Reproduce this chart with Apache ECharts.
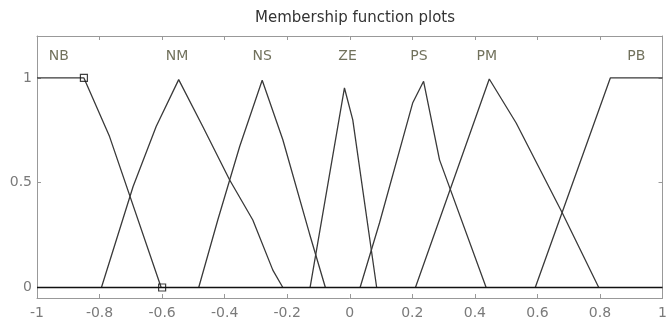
<!DOCTYPE html>
<html>
<head>
<meta charset="utf-8">
<script src="https://cdn.jsdelivr.net/npm/echarts@6/dist/echarts.min.js"></script>
<style>
  html, body { margin: 0; padding: 0; background: #fff; }
  #chart { width: 670px; height: 328px; }
</style>
</head>
<body>
<div id="chart"></div>
<script>
// Membership functions of the seven linguistic terms, as [x, membership] vertices
const mfNames = ['NB', 'NM', 'NS', 'ZE', 'PS', 'PM', 'PB'];
const NB = [[-1, 1], [-0.85, 1], [-0.768, 0.72], [-0.603, 0]];
const NM = [[-0.794, 0], [-0.693, 0.481], [-0.619, 0.768], [-0.547, 0.992], [-0.47, 0.768], [-0.384, 0.513], [-0.31, 0.322], [-0.246, 0.083], [-0.214, 0]];
const NS = [[-0.483, 0], [-0.422, 0.322], [-0.352, 0.673], [-0.28, 0.989], [-0.214, 0.705], [-0.129, 0.258], [-0.078, 0]];
const ZE = [[-0.127, 0], [-0.017, 0.952], [0.0096, 0.80], [0.086, 0]];
const PS = [[0.033, 0], [0.095, 0.308], [0.201, 0.88], [0.236, 0.984], [0.287, 0.609], [0.436, 0]];
const PM = [[0.21, 0], [0.446, 0.995], [0.532, 0.785], [0.68, 0.354], [0.796, 0]];
const PB = [[0.593, 0], [0.833, 1], [1, 1]];
const mfData = [NB, NM, NS, ZE, PS, PM, PB];

// Zero baseline across the universe of discourse
const baseline = [[-1, 0], [1, 0]];
// Selected-function markers (NB breakpoints)
const markers = [[-0.85, 1], [-0.6, 0]];
// Term label anchor positions
const labelX = [-0.93, -0.552, -0.28, -0.007, 0.221, 0.438, 0.916];
const labelY = 1.103;

const yTicks = [0, 0.5, 1];

const chart = echarts.init(document.getElementById('chart'));
const fontFamily = '"DejaVu Sans", Arial, sans-serif';

const series = mfData.map((d, i) => ({
  name: mfNames[i],
  type: 'line',
  data: d,
  symbol: 'none',
  lineStyle: { color: '#3a3a3a', width: 1.3 },
  z: 3,
  animation: false
}));

series.push({
  type: 'line',
  data: baseline,
  symbol: 'none',
  lineStyle: { color: '#111', width: 1.4 },
  z: 4,
  animation: false
});

series.push({
  type: 'scatter',
  data: markers,
  symbol: 'rect',
  symbolSize: 7,
  itemStyle: { color: 'rgba(255,255,255,0)', borderColor: '#111', borderWidth: 1.2 },
  z: 5,
  animation: false
});

series.push({
  type: 'scatter',
  data: mfNames.map((n, i) => ({ name: n, value: [labelX[i], labelY] })),
  symbolSize: 0,
  label: {
    show: true,
    position: 'inside',
    formatter: p => p.name,
    color: '#4d4d33',
    fontSize: 14,
    fontFamily: fontFamily
  },
  silent: true,
  z: 6,
  animation: false
});

chart.setOption({
  animation: false,
  backgroundColor: '#fff',
  title: {
    text: 'Membership function plots',
    left: 350,
    textAlign: 'center',
    top: 6,
    textStyle: { color: '#333', fontSize: 15, fontWeight: 'normal', fontFamily: fontFamily }
  },
  grid: { left: 37, right: 7, top: 36, bottom: 30, show: false },
  xAxis: [{
    type: 'value', min: -1, max: 1, interval: 0.2, position: 'bottom',
    axisLine: { show: true, onZero: false, lineStyle: { color: '#999', width: 1 } },
    axisTick: { show: true, inside: true, length: 4, lineStyle: { color: '#999' } },
    axisLabel: { color: '#7a7a7a', fontSize: 14, margin: 8, fontFamily: fontFamily },
    splitLine: { show: false }
  }, {
    type: 'value', min: -1, max: 1, interval: 0.2, position: 'top',
    axisLine: { show: true, onZero: false, lineStyle: { color: '#999', width: 1 } },
    axisTick: { show: true, inside: true, length: 4, lineStyle: { color: '#999' } },
    axisLabel: { show: false },
    splitLine: { show: false }
  }],
  yAxis: [{
    type: 'value', min: -0.05, max: 1.2, position: 'left',
    axisLine: { show: true, onZero: false, lineStyle: { color: '#999', width: 1 } },
    axisTick: { show: true, inside: true, length: 4, customValues: yTicks, lineStyle: { color: '#999' } },
    axisLabel: { color: '#7a7a7a', fontSize: 14, margin: 5, customValues: yTicks, fontFamily: fontFamily },
    splitLine: { show: false }
  }, {
    type: 'value', min: -0.05, max: 1.2, position: 'right',
    axisLine: { show: true, onZero: false, lineStyle: { color: '#999', width: 1 } },
    axisTick: { show: true, inside: true, length: 4, customValues: yTicks, lineStyle: { color: '#999' } },
    axisLabel: { show: false, customValues: yTicks },
    splitLine: { show: false }
  }],
  series: series
});
</script>
</body>
</html>
